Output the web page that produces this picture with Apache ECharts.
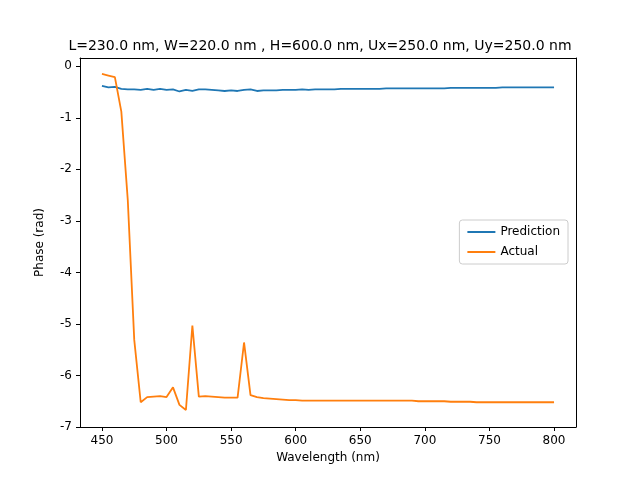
<!DOCTYPE html>
<html><head><meta charset="utf-8">
<script src="https://cdn.jsdelivr.net/npm/echarts@6/dist/echarts.min.js"></script>
<style>body{margin:0}#c{width:640px;height:480px}</style>
</head><body><div id="c"></div>
<script>
const wavelengths = []
for (let w = 450; w <= 800; w += 5) wavelengths.push(w)

const prediction = [-0.38,-0.41,-0.40,-0.44,-0.45,-0.45,-0.46,-0.44,-0.46,-0.44,-0.46,-0.45,-0.49,-0.46,-0.48,-0.45,-0.45,-0.46,-0.47,-0.48,-0.47,-0.48,-0.46,-0.45,-0.48,-0.47,-0.47,-0.47,-0.46,-0.46,-0.46,-0.45,-0.46,-0.45,-0.45,-0.45,-0.45,-0.44,-0.44,-0.44,-0.44,-0.44,-0.44,-0.44,-0.43,-0.43,-0.43,-0.43,-0.43,-0.43,-0.43,-0.43,-0.43,-0.43,-0.42,-0.42,-0.42,-0.42,-0.42,-0.42,-0.42,-0.42,-0.41,-0.41,-0.41,-0.41,-0.41,-0.41,-0.41,-0.41,-0.41]

const actual = [-0.15,-0.18,-0.21,-0.88,-2.6,-5.31,-6.52,-6.42,-6.41,-6.40,-6.42,-6.23,-6.57,-6.67,-5.03,-6.41,-6.40,-6.41,-6.42,-6.43,-6.43,-6.43,-5.36,-6.38,-6.42,-6.44,-6.45,-6.46,-6.47,-6.48,-6.48,-6.49,-6.49,-6.49,-6.49,-6.49,-6.49,-6.49,-6.49,-6.49,-6.49,-6.49,-6.49,-6.49,-6.49,-6.49,-6.49,-6.49,-6.49,-6.50,-6.50,-6.50,-6.50,-6.50,-6.51,-6.51,-6.51,-6.51,-6.52,-6.52,-6.52,-6.52,-6.52,-6.52,-6.52,-6.52,-6.52,-6.52,-6.52,-6.52,-6.52]

const xTicks = [450,500,550,600,650,700,750,800]
const yTicks = [-7,-6,-5,-4,-3,-2,-1,0]

const font = 'DejaVu Sans'
const chart = echarts.init(document.getElementById('c'))
const axisCommon = {
  axisLine: { show: true, onZero: false, lineStyle: { color: '#000' } },
  axisTick: { show: true, inside: false, length: 4, lineStyle: { color: '#000' } },
  axisLabel: { color: '#000', fontFamily: font, fontSize: 12 },
  splitLine: { show: false },
  nameLocation: 'middle',
  nameTextStyle: { color: '#000', fontFamily: font, fontSize: 12 }
}
const frame = { show: true, onZero: false, lineStyle: { color: '#000' } }
chart.setOption({
  animation: false,
  title: {
    text: 'L=230.0 nm, W=220.0 nm , H=600.0 nm, Ux=250.0 nm, Uy=250.0 nm',
    left: 'center', top: 34,
    textStyle: { color: '#000', fontFamily: font, fontSize: 14, fontWeight: 'normal' }
  },
  grid: { left: 80, right: 64, top: 58, bottom: 53 },
  legend: {
    orient: 'vertical', right: 72, top: 220,
    borderColor: '#ccc', borderWidth: 1, borderRadius: 3, padding: [6, 8],
    itemWidth: 28, itemHeight: 2, itemGap: 8,
    icon: 'rect',
    textStyle: { fontFamily: font, fontSize: 12, color: '#000' },
    data: ['Prediction', 'Actual']
  },
  xAxis: [
    Object.assign({}, axisCommon, {
      type: 'value', min: 433, max: 817, name: 'Wavelength (nm)', nameGap: 24,
      axisLabel: Object.assign({}, axisCommon.axisLabel, { customValues: xTicks }),
      axisTick: Object.assign({}, axisCommon.axisTick, { customValues: xTicks })
    }),
    { type: 'value', position: 'top', min: 433, max: 817, axisLine: frame,
      axisTick: { show: false }, axisLabel: { show: false }, splitLine: { show: false } }
  ],
  yAxis: [
    Object.assign({}, axisCommon, {
      type: 'value', min: -7, max: 0.16, name: 'Phase (rad)', nameGap: 34,
      axisLabel: Object.assign({}, axisCommon.axisLabel, { customValues: yTicks }),
      axisTick: Object.assign({}, axisCommon.axisTick, { customValues: yTicks })
    }),
    { type: 'value', position: 'right', min: -7, max: 0.16, axisLine: frame,
      axisTick: { show: false }, axisLabel: { show: false }, splitLine: { show: false } }
  ],
  series: [
    { name: 'Prediction', type: 'line', showSymbol: false, color: '#1f77b4',
      lineStyle: { width: 1.8 }, data: wavelengths.map((w, i) => [w, prediction[i]]) },
    { name: 'Actual', type: 'line', showSymbol: false, color: '#ff7f0e',
      lineStyle: { width: 1.8 }, data: wavelengths.map((w, i) => [w, actual[i]]) }
  ]
})
</script>
</body></html>
